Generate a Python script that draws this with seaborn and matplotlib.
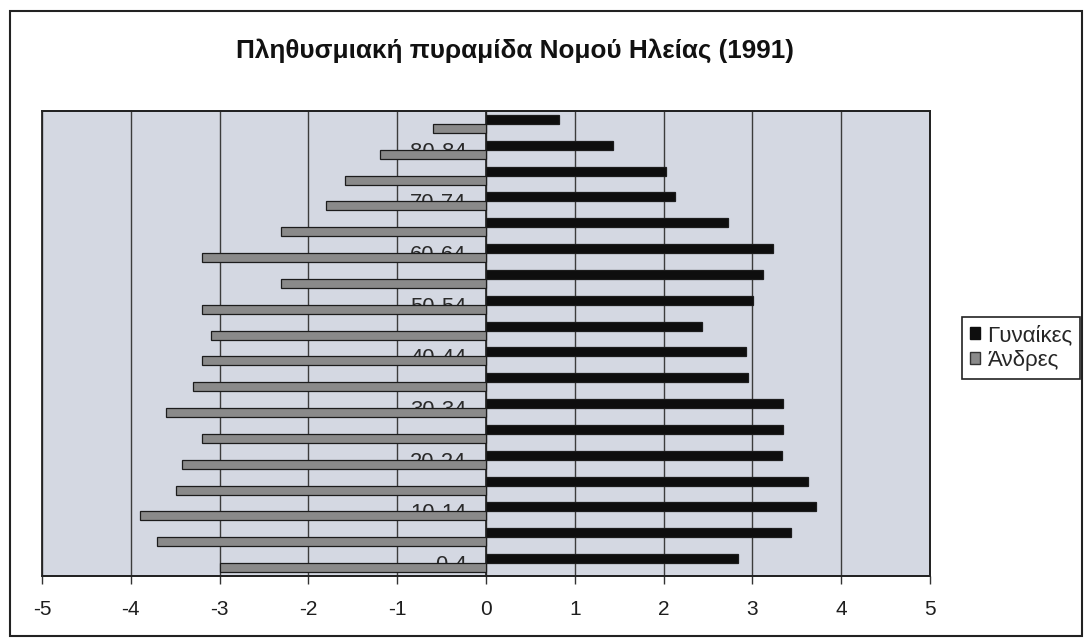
import numpy as np
import pandas as pd
import matplotlib
matplotlib.use('Agg')
import matplotlib.pyplot as plt
import seaborn as sns
from matplotlib.patches import Patch, Rectangle

# ---- data ----
ages = ['0-4', '5-9', '10-14', '15-19', '20-24', '25-29', '30-34', '35-39', '40-44',
        '45-49', '50-54', '55-59', '60-64', '65-69', '70-74', '75-79', '80-84', '85+']
women = [2.84, 3.44, 3.72, 3.63, 3.33, 3.35, 3.35, 2.95, 2.93,
         2.43, 3.01, 3.12, 3.23, 2.73, 2.13, 2.03, 1.43, 0.82]
men = [-2.99, -3.71, -3.90, -3.49, -3.42, -3.20, -3.60, -3.30, -3.20,
       -3.10, -3.20, -2.31, -3.20, -2.31, -1.80, -1.59, -1.19, -0.60]
shown_labels = ['0-4', '10-14', '20-24', '30-34', '40-44', '50-54', '60-64', '70-74', '80-84']
x_ticks = [-5, -4, -3, -2, -1, 0, 1, 2, 3, 4, 5]
series_names = ['Γυναίκες', 'Άνδρες']
title = 'Πληθυσμιακή πυραμίδα Νομού Ηλείας (1991)'

df = pd.DataFrame({
    'age': ages + ages,
    'value': women + men,
    'sex': [series_names[0]] * len(ages) + [series_names[1]] * len(ages),
})

sns.set_theme(style='white')
plt.rcParams['font.family'] = ['Liberation Sans', 'DejaVu Sans']

W, H = 1090, 644
fig = plt.figure(figsize=(W / 100, H / 100), dpi=100)
fig.patch.set_facecolor('white')
ax = fig.add_axes([42 / W, 1 - 576 / H, (930 - 42) / W, (576 - 111) / H])

order = ages[::-1]
palette = {series_names[0]: '#0e0e0e', series_names[1]: '#8a8a8a'}
sns.barplot(data=df, y='age', x='value', hue='sex', order=order, hue_order=series_names,
            palette=palette, orient='h', width=0.7, gap=0, saturation=1,
            edgecolor='#1c1c1c', linewidth=0.9, legend=False, errorbar=None,
            ax=ax, zorder=3)

ax.set_facecolor('#d4d8e2')
ax.set_xlim(-5, 5)
ax.set_ylim(len(ages) - 0.5, -0.5)
ax.set_xticks(x_ticks)
ax.set_xticklabels([str(v) for v in x_ticks])
ax.set_xlabel('')
ax.set_ylabel('')

# category axis at x = 0
ax.spines['left'].set_position(('data', 0))
ax.spines['left'].set_color('#222222')
ax.spines['left'].set_linewidth(1.2)
for s in ['top', 'right', 'bottom']:
    ax.spines[s].set_color('#222222')
    ax.spines[s].set_linewidth(1.3)
ax.add_patch(Rectangle((0, 0), 1, 1, transform=ax.transAxes, fill=False,
                       ec='#222222', lw=1.3, clip_on=False, zorder=4))

ax.grid(axis='x', color='#3c3c3c', lw=1.0)
ax.grid(axis='y', visible=False)
ax.set_axisbelow(True)

pos = [order.index(l) for l in shown_labels]
ax.set_yticks(pos)
ax.set_yticklabels(shown_labels)
ax.set_yticks(np.arange(-0.5, len(ages), 1), minor=True)
ax.tick_params(axis='y', which='major', length=0, pad=14, labelsize=15.8, labelcolor='#2a2a2a')
ax.tick_params(axis='y', which='minor', length=5, width=1, direction='out', color='#333333')
ax.tick_params(axis='x', which='major', length=6, width=1, direction='out', color='#333333',
               pad=11, labelsize=15, labelcolor='#1e1e1e', bottom=True)

fig.text(236 / W, 1 - 58 / H, title, ha='left', va='baseline',
         fontsize=18.8, fontweight='bold', color='#111111')

handles = [Patch(facecolor=palette[series_names[0]], edgecolor='#0e0e0e'),
           Patch(facecolor=palette[series_names[1]], edgecolor='#333333')]
leg = fig.legend(handles=handles, labels=series_names, loc='lower left',
                 bbox_to_anchor=(962 / W, 1 - 379 / H), bbox_transform=fig.transFigure,
                 frameon=True, fancybox=False, edgecolor='#222222', framealpha=1,
                 fontsize=16, handlelength=0.45, handleheight=0.45, handletextpad=0.35,
                 borderpad=0.35, labelspacing=0.2, borderaxespad=0)
leg.get_frame().set_linewidth(1.2)

fig.patches.append(Rectangle((10 / W, 1 - 636 / H), (1082 - 10) / W, (636 - 11) / H,
                             transform=fig.transFigure, fill=False, ec='#222222', lw=1.5))

fig.savefig('out.png', dpi=100)
